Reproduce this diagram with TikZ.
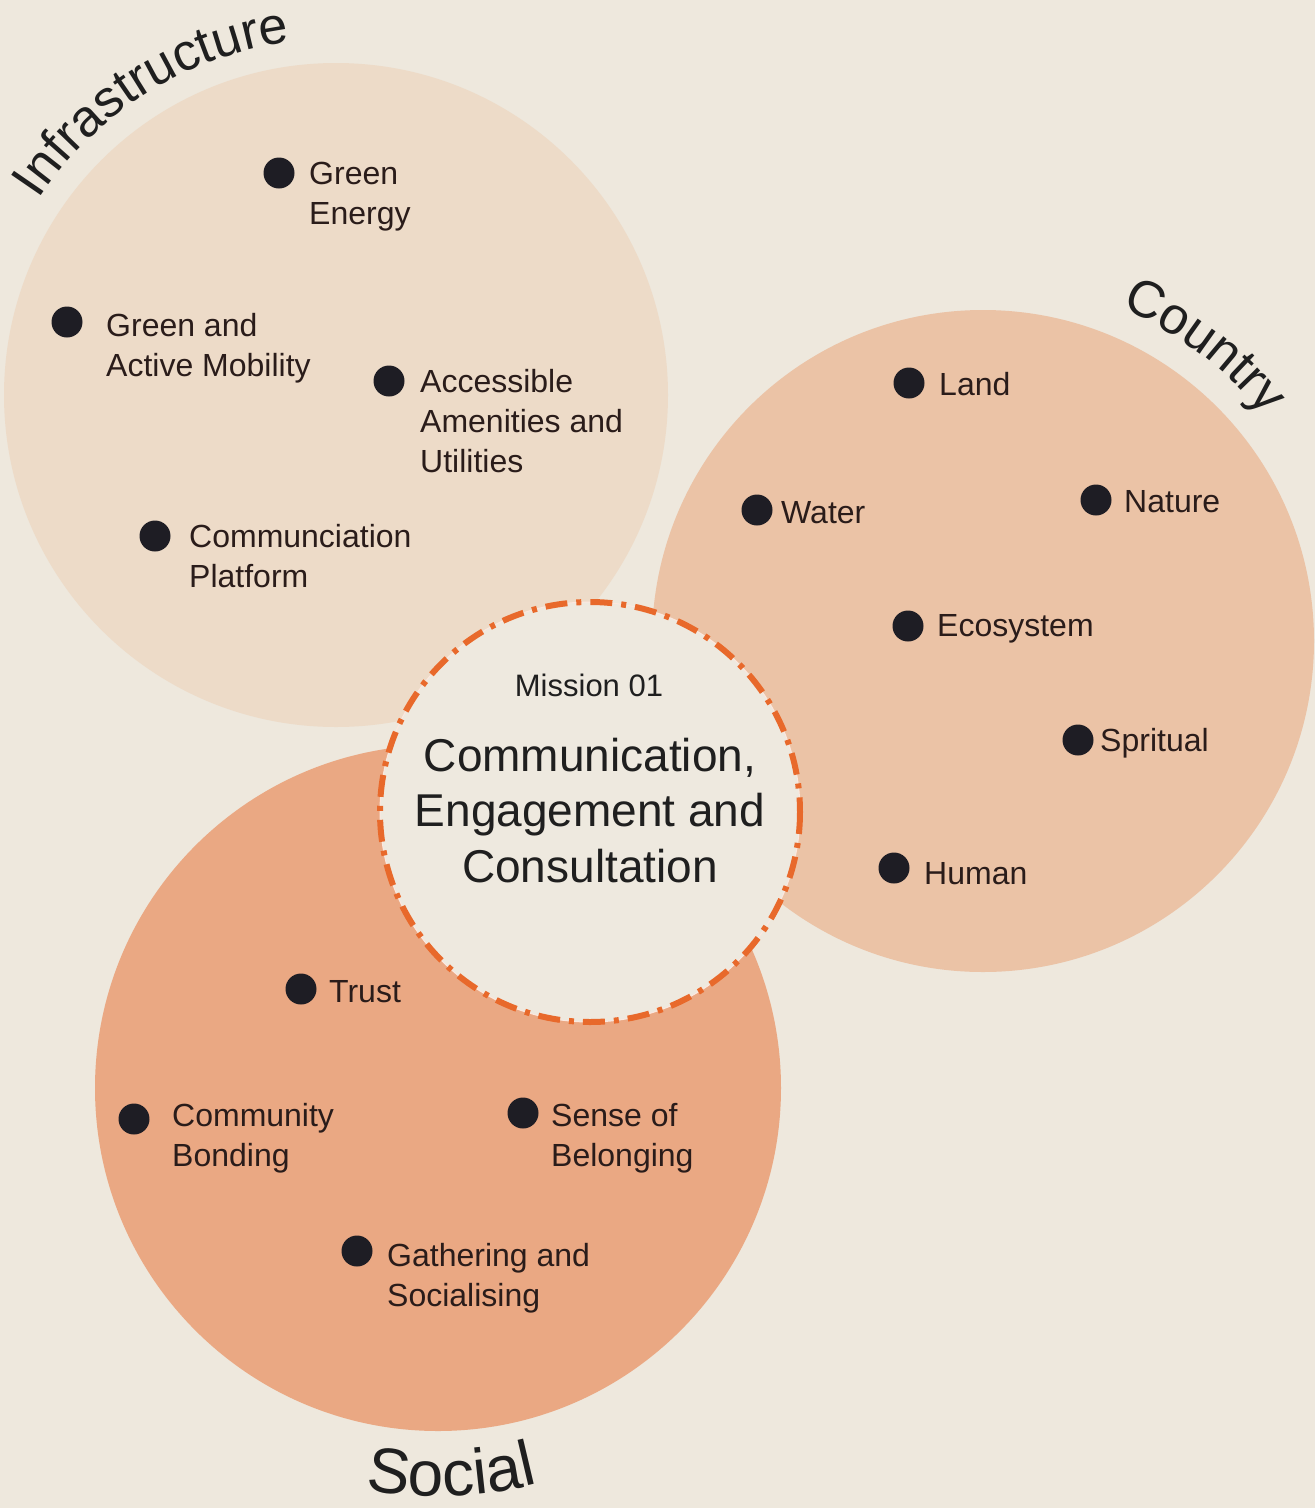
\documentclass[tikz,border=0pt]{standalone}
\usepackage{fontspec}
\setmainfont{Liberation Sans}
\usetikzlibrary{decorations.text}
\definecolor{bg}{HTML}{EEE8DD}
\definecolor{infra}{HTML}{EDDBC8}
\definecolor{country}{HTML}{EBC3A6}
\definecolor{social}{HTML}{EAA883}
\definecolor{centerfill}{HTML}{EEE9DF}
\definecolor{dashc}{HTML}{E8692B}
\definecolor{txt}{HTML}{2A1C1A}
\definecolor{dotc}{HTML}{1E1D24}
\newcommand\itemfont{\fontsize{32}{40}\selectfont}
\begin{document}
\begin{tikzpicture}[x=1pt,y=-1pt,
  dotmark/.style={circle, fill=dotc, minimum size=31pt, inner sep=0pt},
  item/.style={anchor=base west, align=left, font=\itemfont, text=txt, inner sep=0pt}]
\useasboundingbox (0,0) rectangle (1315,1508);
\fill[bg] (0,0) rectangle (1315,1508);
% circles
\fill[infra] (336,395) circle[radius=332];
\fill[country] (983,641) circle[radius=331];
\fill[social] (438,1088) circle[radius=343];
\fill[centerfill, draw=white!85!dashc, line width=1pt] (590,812) circle[radius=210];
\draw[dashc, line width=6pt, dash pattern=on 22pt off 9pt on 5pt off 9pt] (590,812) circle[radius=210];
% curved titles
\path[decorate, decoration={text along path, text align=center,
  text={|\fontsize{52}{60}\selectfont\color{black!88}|Infrastructure}}]
  (336,395) ++(-154:356) arc[start angle=-154, end angle=-90, radius=356];
\path[decorate, decoration={text along path, text align=center,
  text={|\fontsize{52}{58}\selectfont\color{black!88}|Country}}]
  (983,641) ++(-78:360) arc[start angle=-78, end angle=-28, radius=360];
\path[decorate, decoration={text along path, text align=center,
  text={|\fontsize{64}{70}\selectfont\color{black!88}|Social}}]
  (438,1088) ++(112:408) arc[start angle=112, end angle=64, radius=408];
% infrastructure items
\node[dotmark] (d1) at (279,173) {};
\node[item] (t1) at (309,224) {Green\\Energy};
\node[dotmark] (d2) at (67,322) {};
\node[item] (t2) at (106,376) {Green and\\Active Mobility};
\node[dotmark] (d3) at (389,381) {};
\node[item] (t3) at (420,472) {Accessible\\Amenities and\\Utilities};
\node[dotmark] (d4) at (155,536) {};
\node[item] (t4) at (189,587) {Communciation\\Platform};
% country items
\node[dotmark] (d5) at (909,383) {};
\node[item] (t5) at (939,395) {Land};
\node[dotmark] (d6) at (757,510) {};
\node[item] (t6) at (781,523) {Water};
\node[dotmark] (d7) at (1096,500) {};
\node[item] (t7) at (1124,512) {Nature};
\node[dotmark] (d8) at (908,626) {};
\node[item] (t8) at (937,636) {Ecosystem};
\node[dotmark] (d9) at (1078,740) {};
\node[item] (t9) at (1100,751) {Spritual};
\node[dotmark] (d10) at (894,868) {};
\node[item] (t10) at (924,884) {Human};
% social items
\node[dotmark] (d11) at (301,989) {};
\node[item] (t11) at (329,1002) {Trust};
\node[dotmark] (d12) at (134,1119) {};
\node[item] (t12) at (172,1166) {Community\\Bonding};
\node[dotmark] (d13) at (523,1113) {};
\node[item] (t13) at (551,1166) {Sense of\\Belonging};
\node[dotmark] (d14) at (357,1251) {};
\node[item] (t14) at (387,1306) {Gathering and\\Socialising};
% center text
\node[anchor=base, inner sep=0pt, font=\fontsize{31}{36}\selectfont, text=black!88] (m) at (589,696) {Mission 01};
\node[anchor=base, align=center, inner sep=0pt, font=\fontsize{46}{55.5}\selectfont, text=black!88] (c) at (590,882) {Communication,\\Engagement and\\Consultation};
\end{tikzpicture}
\end{document}
